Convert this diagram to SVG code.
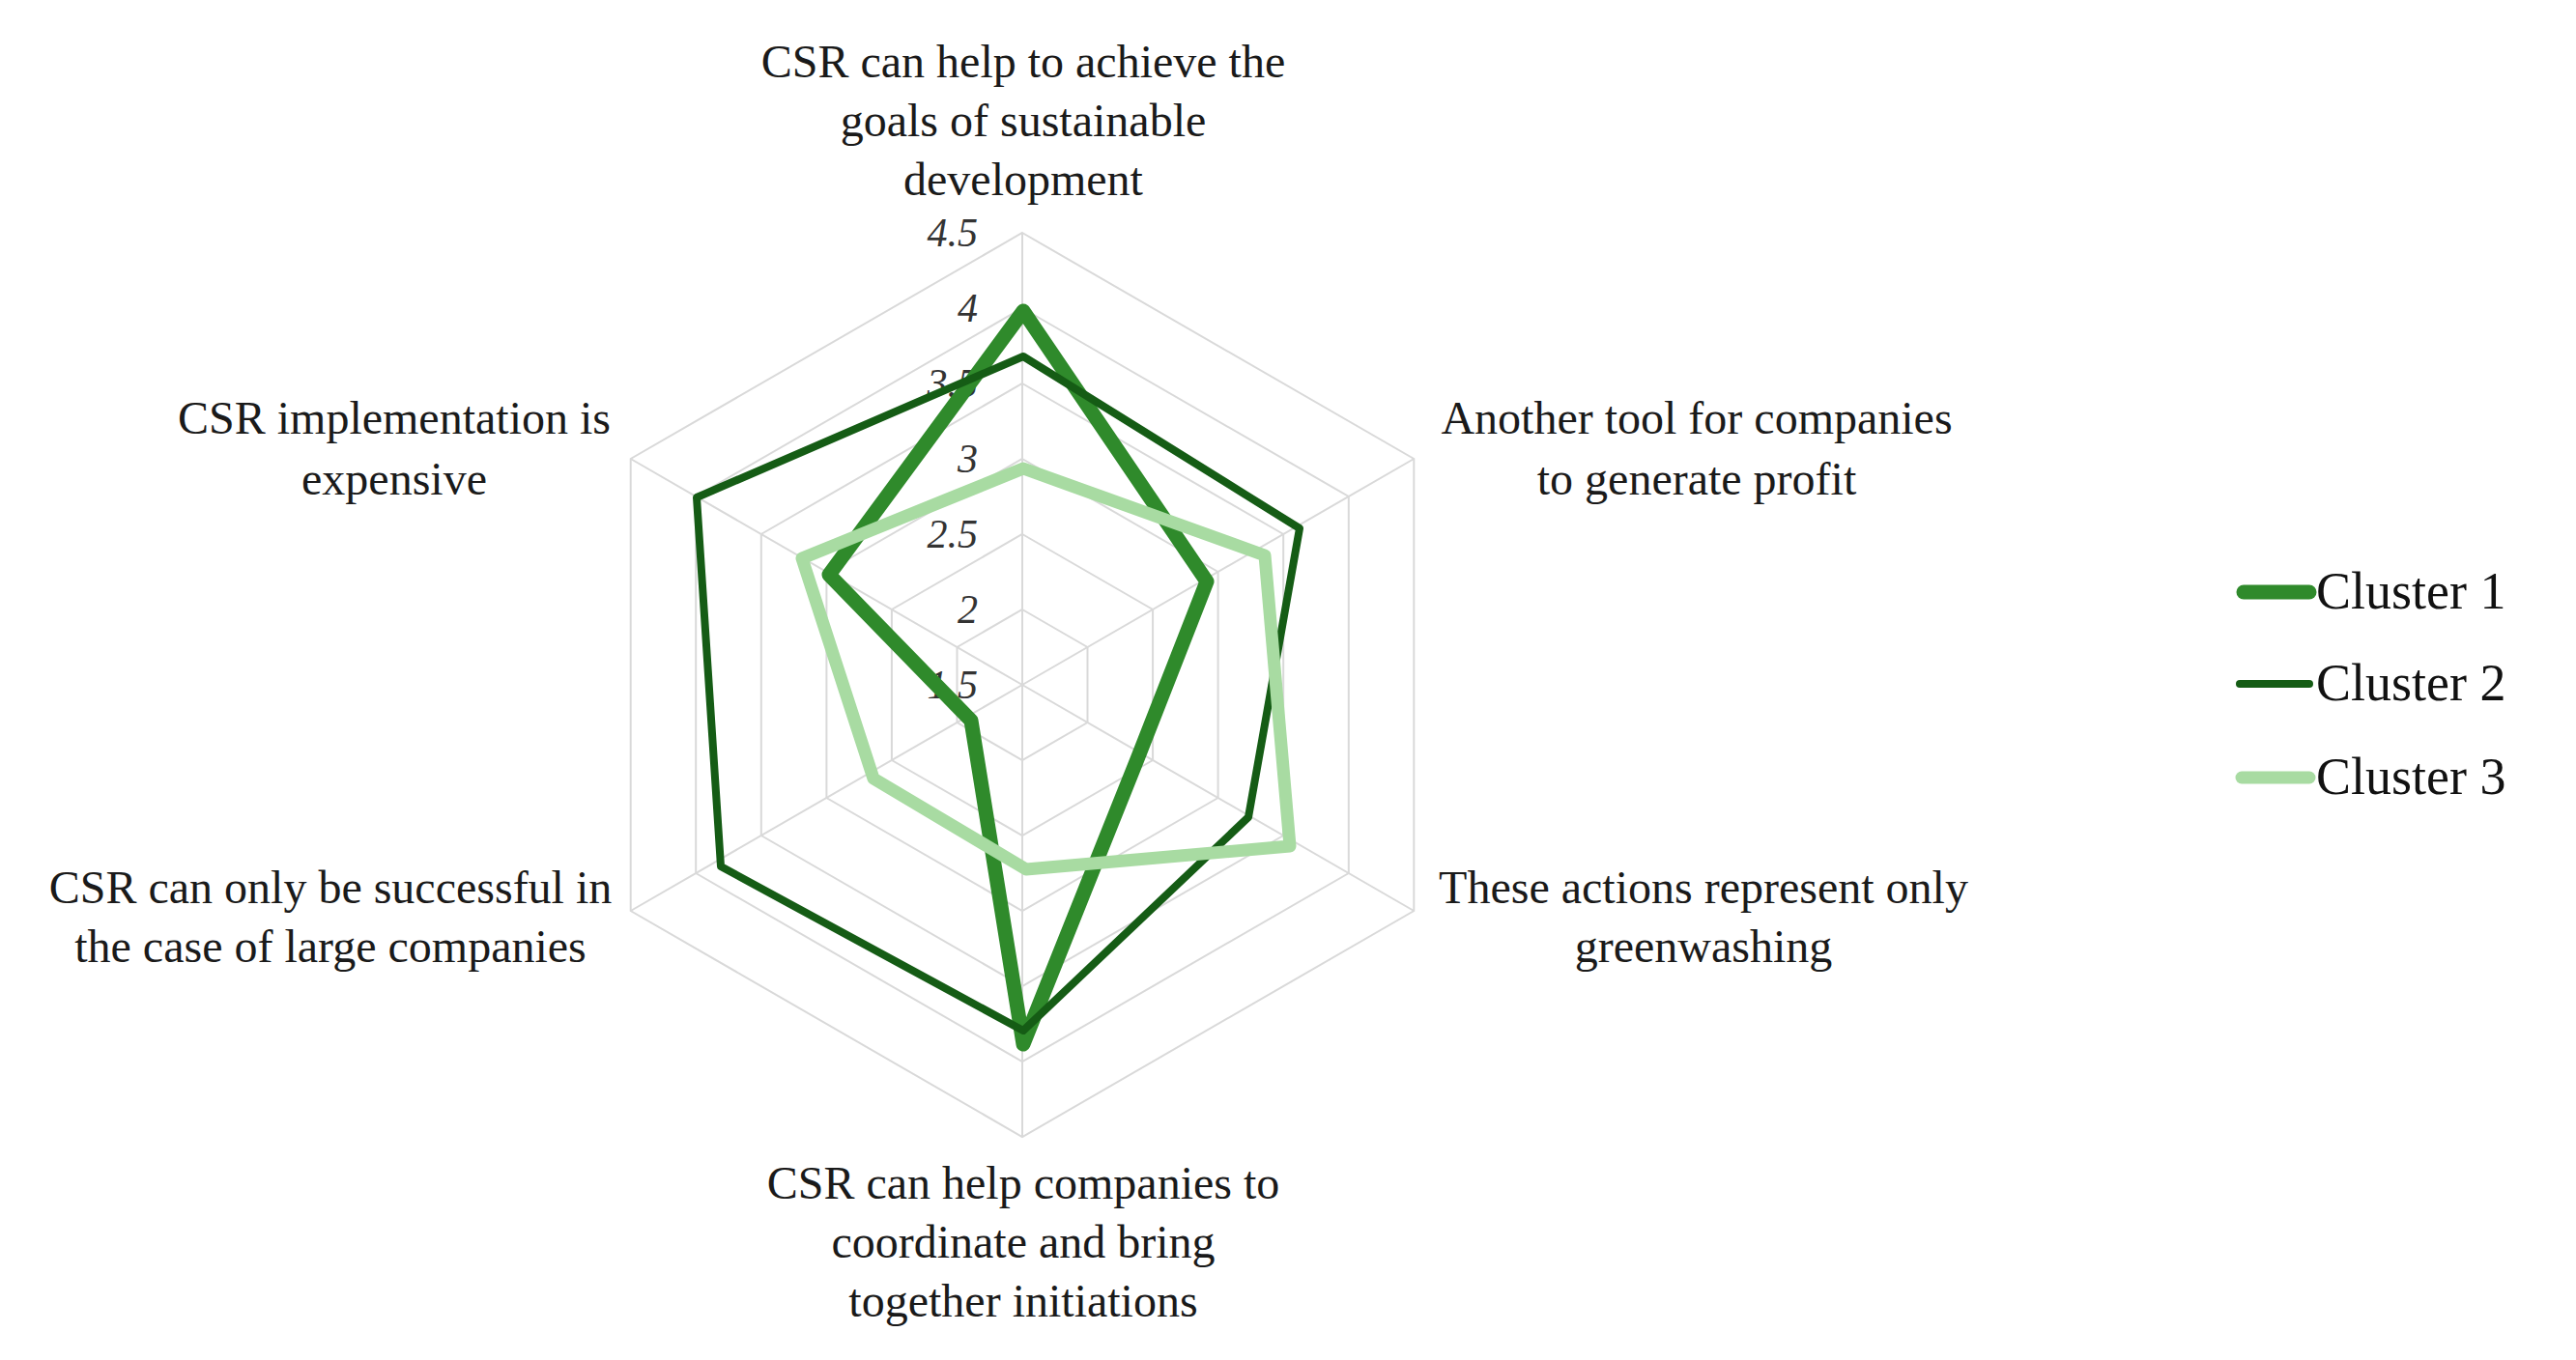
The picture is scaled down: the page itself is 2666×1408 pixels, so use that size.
<svg xmlns="http://www.w3.org/2000/svg" width="2666" height="1408" viewBox="0 0 2666 1408">
<style>
.grid{fill:none;stroke:#d9d9d9;stroke-width:2}
.t{font-family:"Liberation Serif","DejaVu Serif",serif;font-size:48px;fill:#1a1a1a;text-anchor:middle}
.tick{font-family:"Liberation Serif","DejaVu Serif",serif;font-size:42px;font-style:italic;fill:#333;text-anchor:end}
.leg{font-family:"Liberation Serif","DejaVu Serif",serif;font-size:54px;fill:#111}
.s{fill:none;stroke-linejoin:round;stroke-linecap:round}
.c1{stroke:#2f8a2b;stroke-width:15}
.c2{stroke:#155c15;stroke-width:8}
.c3{stroke:#a8dba2;stroke-width:13}
</style>
<rect width="2666" height="1408" fill="#fff"/>
<g id="grid">
<polygon class="grid" points="1058,631 1125.5,670 1125.5,748 1058,787 990.5,748 990.5,670"/>
<polygon class="grid" points="1058,553 1193.1,631 1193.1,787 1058,865 922.9,787 922.9,631"/>
<polygon class="grid" points="1058,475 1260.6,592 1260.6,826 1058,943 855.4,826 855.4,592"/>
<polygon class="grid" points="1058,397 1328.2,553 1328.2,865 1058,1021 787.8,865 787.8,553"/>
<polygon class="grid" points="1058,319 1395.8,514 1395.8,904 1058,1099 720.2,904 720.2,514"/>
<polygon class="grid" points="1058,241 1463.3,475 1463.3,943 1058,1177 652.7,943 652.7,475"/>
<path class="grid" d="M1058,709L1058,241M1058,709L1463.3,475M1058,709L1463.3,943M1058,709L1058,1177M1058,709L652.7,943M1058,709L652.7,475"/>
</g>
<g id="ticks">
<text class="tick" x="1012" y="255">4.5</text>
<text class="tick" x="1012" y="333">4</text>
<text class="tick" x="1012" y="411">3.5</text>
<text class="tick" x="1012" y="489">3</text>
<text class="tick" x="1012" y="567">2.5</text>
<text class="tick" x="1012" y="645">2</text>
<text class="tick" x="1012" y="723">1.5</text>
</g>
<g id="series">
<polygon id="cluster1" class="s c1" points="1059,322 1249,602 1177,786 1059,1081 1005,746 858,595"/>
<polygon id="cluster2" class="s c2" points="1059,369 1345,547 1292,846 1059,1067 746,897 721,515"/>
<polygon id="cluster3" class="s c3" points="1059,485 1309,575 1335,876 1062,900 904,806 830,578"/>
</g>
<g id="labels">
<text class="t" x="1059" y="80">CSR can help to achieve the</text>
<text class="t" x="1059" y="141">goals of sustainable</text>
<text class="t" x="1059" y="202">development</text>
<text class="t" x="1756" y="449">Another tool for companies</text>
<text class="t" x="1756" y="512">to generate profit</text>
<text class="t" x="1763" y="935">These actions represent only</text>
<text class="t" x="1763" y="996">greenwashing</text>
<text class="t" x="1059" y="1241">CSR can help companies to</text>
<text class="t" x="1059" y="1302">coordinate and bring</text>
<text class="t" x="1059" y="1363">together initiations</text>
<text class="t" x="342" y="935">CSR can only be successful in</text>
<text class="t" x="342" y="996">the case of large companies</text>
<text class="t" x="408" y="449">CSR implementation is</text>
<text class="t" x="408" y="512">expensive</text>
</g>
<g id="legend">
<line class="s c1" x1="2322" y1="613" x2="2390" y2="613"/>
<text class="leg" x="2397" y="630">Cluster 1</text>
<line class="s c2" x1="2318" y1="708" x2="2390" y2="708"/>
<text class="leg" x="2397" y="725">Cluster 2</text>
<line class="s c3" x1="2320" y1="805" x2="2390" y2="805"/>
<text class="leg" x="2397" y="822">Cluster 3</text>
</g>
</svg>
